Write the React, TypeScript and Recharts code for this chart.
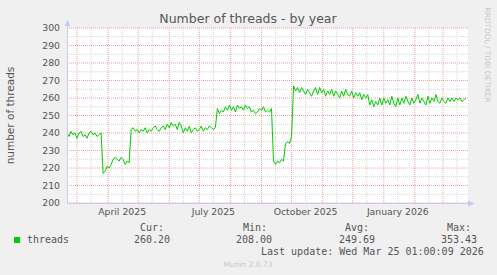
import React from "react";
import { LineChart, Line, XAxis, YAxis, ReferenceLine } from "recharts";

// day 0 = 19 Feb 2025, one sample every 2 days
const stepDays = 2;
const threads = [
  240, 238, 241, 239, 240, 237, 240, 241, 238, 239, 237, 240, 241, 239, 240, 238, 239, 240,
  217, 218, 221, 220, 222, 225, 226, 225, 224, 226, 225, 222, 224, 223,
  242, 243, 241, 242, 240, 242, 241, 243, 240, 242, 241, 243, 244, 242, 241, 243, 244, 242,
  245, 243, 246, 244, 245, 242, 246, 244, 240, 243, 241, 244, 240, 242, 243, 241, 242, 244,
  241, 243, 242, 244, 243, 242, 243,
  254, 251, 253, 252, 255, 253, 256, 253, 255, 252, 256, 254, 255, 253, 256, 254, 255, 252,
  253, 251, 252, 254, 253, 255, 252, 253, 252, 254,
  224, 222, 224, 223, 225, 224,
  234, 235, 234, 238,
  267, 264, 266, 263, 266, 264, 262, 265, 263, 261, 264, 266, 262, 266, 263, 265, 261, 264,
  262, 265, 261, 264, 262, 260, 264, 261, 265, 262, 261, 264, 260, 263, 261, 263, 259, 262,
  260, 262,
  256, 259, 255, 258, 256, 260, 256, 260, 257, 259, 256, 261, 257, 255, 260, 256, 260, 257,
  261, 258, 256, 260, 257, 259, 262, 257, 260, 258, 256, 261, 257, 260, 258, 262, 258, 257,
  260, 258, 257, 260, 258, 260, 258, 260, 259, 260, 258, 259, 260,
];

const monthStarts = [10, 41, 71, 102, 132, 163, 194, 224, 255, 285, 316, 347, 375];
const midMonths = [24, 55, 85, 116, 146, 177, 208, 238, 269, 299, 330, 361, 389];
const labelDays = [55, 146, 238, 330];
const labelNames = ["April 2025", "July 2025", "October 2025", "January 2026"];
const majorY = [200, 210, 220, 230, 240, 250, 260, 270, 280, 290, 300];
const minorY = [205, 215, 225, 235, 245, 255, 265, 275, 285, 295];

const stats = [
  { label: "Cur:", value: "260.20", lx: 140, vx: 134 },
  { label: "Min:", value: "208.00", lx: 243, vx: 236 },
  { label: "Avg:", value: "249.69", lx: 345, vx: 339 },
  { label: "Max:", value: "353.43", lx: 447, vx: 441 },
];

const data = threads.map((v, i) => ({ day: i * stepDays, threads: v }));

const sans = "'DejaVu Sans', sans-serif";
const mono = "'DejaVu Sans Mono', monospace";
const axisBlue = "#c8c8f4";

export default function App() {
  return (
    <div style={{ position: "absolute", left: 0, top: 0, width: 497, height: 275, background: "#f0f0f0" }}>
      <div style={{ position: "absolute", left: 67, top: 28, width: 401, height: 175, background: "#fff" }} />
      <div style={{ position: "absolute", left: 0, top: 0 }}>
        <LineChart width={497} height={275} data={data} margin={{ top: 28, right: 29, bottom: 52, left: 27 }}>
          <XAxis
            dataKey="day"
            type="number"
            domain={[0, 400]}
            ticks={labelDays}
            tickFormatter={(d: number) => labelNames[labelDays.indexOf(d)] ?? ""}
            axisLine={false}
            tickLine={false}
            tickSize={0}
            tickMargin={5}
            height={20}
            interval={0}
            tick={{ fontSize: 9.3, fill: "#555", fontFamily: sans }}
          />
          <YAxis
            type="number"
            domain={[200, 300]}
            ticks={majorY}
            axisLine={false}
            tickLine={false}
            tickSize={0}
            tickMargin={7}
            width={40}
            interval={0}
            tick={{ fontSize: 9.3, fill: "#555", fontFamily: sans }}
          />
          {minorY.map((y) => (
            <ReferenceLine key={"my" + y} y={y} stroke="#d4d4d4" strokeDasharray="1 1" />
          ))}
          {midMonths.map((d) => (
            <ReferenceLine key={"mx" + d} x={d} stroke="#d4d4d4" strokeDasharray="1 1" />
          ))}
          {majorY.map((y) => (
            <ReferenceLine key={"My" + y} y={y} stroke="#eea0a0" strokeDasharray="1 1" />
          ))}
          {monthStarts.map((d) => (
            <ReferenceLine key={"Mx" + d} x={d} stroke="#eea0a0" strokeDasharray="1 1" />
          ))}
          <Line
            type="linear"
            dataKey="threads"
            stroke="#00cc00"
            strokeWidth={1}
            dot={false}
            isAnimationActive={false}
          />
        </LineChart>
      </div>
      <svg width={497} height={275} style={{ position: "absolute", left: 0, top: 0, pointerEvents: "none" }}>
        {/* axes with arrows */}
        <line x1={67.5} y1={203} x2={67.5} y2={25} stroke={axisBlue} />
        <polygon points="67.5,20 64.5,26 70.5,26" fill={axisBlue} />
        <line x1={67} y1={203.5} x2={469} y2={203.5} stroke={axisBlue} />
        <polygon points="475,203.5 468,200.5 468,206.5" fill={axisBlue} />
        <text x={248} y={23} textAnchor="middle" fontFamily={sans} fontSize={12.5} fill="#555">
          Number of threads - by year
        </text>
        <text
          x={14}
          y={115.5}
          textAnchor="middle"
          fontFamily={sans}
          fontSize={10.5}
          fill="#555"
          transform="rotate(-90 14 115.5)"
        >
          number of threads
        </text>
        <text
          x={484.5}
          y={55}
          textAnchor="middle"
          fontFamily={sans}
          fontSize={7.4}
          fill="#c8c8c8"
          transform="rotate(90 484.5 55)"
        >
          RRDTOOL / TOBI OETIKER
        </text>
        <rect x={14} y={237} width={6} height={6} fill="#00cc00" />
        <text x={27} y={243} fontFamily={mono} fontSize={10} fill="#555">threads</text>
        {stats.map((s) => (
          <g key={s.label}>
            <text x={s.lx} y={231} fontFamily={mono} fontSize={10} fill="#555">{s.label}</text>
            <text x={s.vx} y={243} fontFamily={mono} fontSize={10} fill="#555">{s.value}</text>
          </g>
        ))}
        <text x={261} y={255} fontFamily={mono} fontSize={10} fill="#555">
          Last update: Wed Mar 25 01:00:09 2026
        </text>
        <text x={248} y={267} textAnchor="middle" fontFamily={sans} fontSize={7.5} fill="#c8c8c8">
          Munin 2.0.73
        </text>
      </svg>
    </div>
  );
}
